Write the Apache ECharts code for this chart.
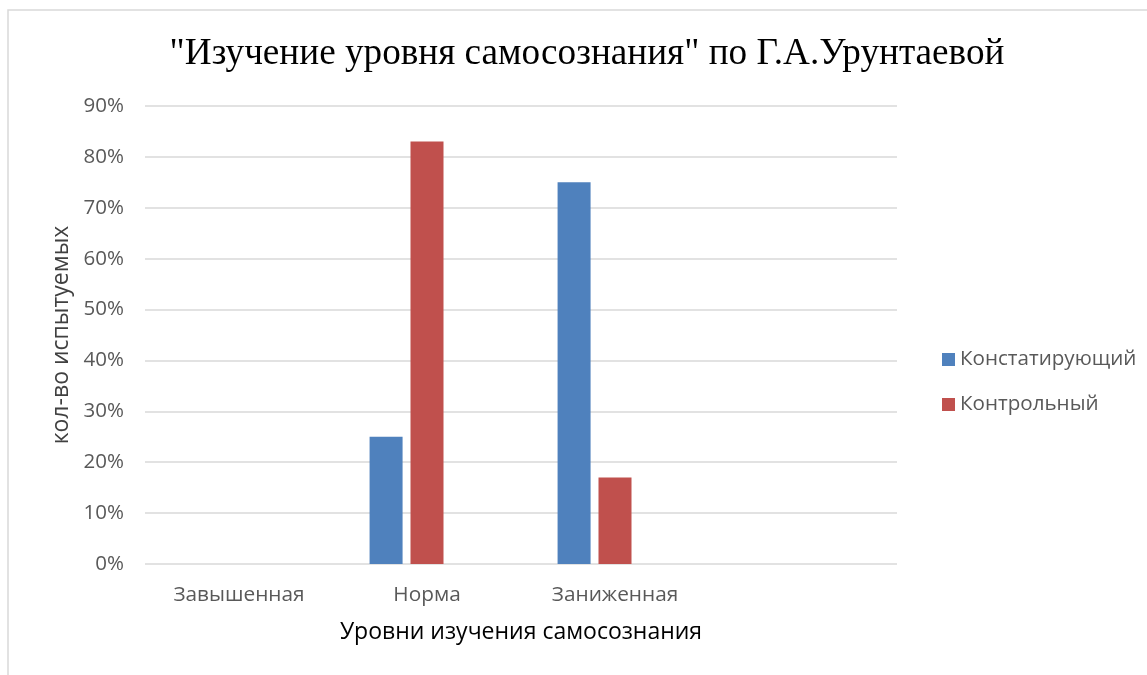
<!DOCTYPE html>
<html><head><meta charset="utf-8">
<script src="https://cdn.jsdelivr.net/npm/echarts@6/dist/echarts.min.js"></script>
<style>html,body{margin:0;padding:0;background:#fff}#c{width:1147px;height:675px}</style>
</head><body><div id="c"></div>
<script>
const categories = ['Завышенная', 'Норма', 'Заниженная', ''];
const seriesNames = ['Констатирующий', 'Контрольный'];
const konstat = [0, 25, 75, null];
const kontrol = [0, 83, 17, null];
const empty3 = [null, null, null, null];
const yTicks = [0, 10, 20, 30, 40, 50, 60, 70, 80, 90];

const chart = echarts.init(document.getElementById('c'));
const axisFont = '"Open Sans", sans-serif';
chart.setOption({
  animation: false,
  graphic: [{type: 'rect', shape: {x: 8, y: 10, width: 1300, height: 800}, style: {fill: 'none', stroke: '#d9d9d9', lineWidth: 1.5}, z: -1}],
  title: {
    text: '"Изучение уровня самосознания" по Г.А.Урунтаевой',
    left: 582, top: 31, textAlign: 'center',
    textStyle: {fontFamily: '"Liberation Serif", serif', fontSize: 37.2, fontWeight: 'normal', color: '#000'}
  },
  legend: {
    data: seriesNames, orient: 'vertical', left: 937, top: 344, itemGap: 24,
    itemWidth: 13, itemHeight: 13, icon: 'rect',
    textStyle: {fontFamily: axisFont, fontSize: 20.6, color: '#595959'}
  },
  grid: {left: 145, right: 250, top: 106, bottom: 111},
  xAxis: {
    type: 'category', data: categories,
    name: 'Уровни изучения самосознания', nameLocation: 'middle', nameGap: 57,
    nameTextStyle: {fontFamily: axisFont, fontSize: 23, color: '#000'},
    axisLine: {show: false}, axisTick: {show: false},
    axisLabel: {margin: 21, fontFamily: axisFont, fontSize: 20.8, color: '#595959'}
  },
  yAxis: {
    type: 'value', min: 0, max: 90, interval: 10,
    name: 'кол-во испытуемых', nameLocation: 'middle', nameGap: 71, nameRotate: 90,
    nameTextStyle: {fontFamily: axisFont, fontSize: 23, color: '#404040'},
    axisLabel: {margin: 21, fontFamily: axisFont, fontSize: 20.5, color: '#595959', formatter: v => v + '%'},
    splitLine: {lineStyle: {color: '#d9d9d9', width: 1.5}}
  },
  series: [
    {name: seriesNames[0], type: 'bar', data: konstat, barWidth: 33, barGap: '24%', itemStyle: {color: '#4f81bd'}},
    {name: seriesNames[1], type: 'bar', data: kontrol, barWidth: 33, barGap: '24%', itemStyle: {color: '#c0504d'}},
    {name: 'empty', type: 'bar', data: empty3, barWidth: 33, barGap: '24%', itemStyle: {color: '#9bbb59'}}
  ]
});
</script></body></html>
